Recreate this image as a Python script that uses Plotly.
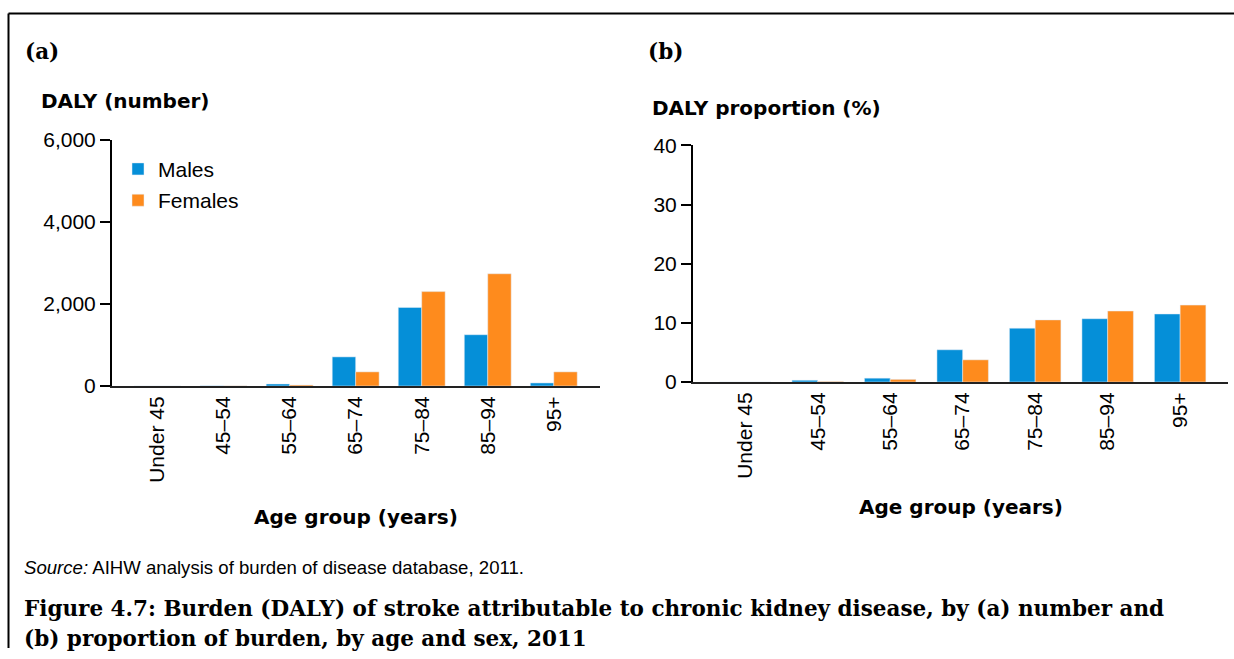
import plotly.graph_objects as go

categories = ["Under 45", "45–54", "55–64", "65–74", "75–84", "85–94", "95+"]
males_number = [0, 5, 50, 710, 1915, 1250, 75]
females_number = [0, 5, 25, 345, 2300, 2735, 345]
males_pct = [0.0, 0.3, 0.65, 5.45, 9.1, 10.7, 11.5]
females_pct = [0.0, 0.1, 0.45, 3.75, 10.5, 12.0, 13.0]
y1_ticks = [0, 2000, 4000, 6000]
y1_ticklabels = ["0", "2,000", "4,000", "6,000"]
y2_ticks = [0, 10, 20, 30, 40]

BLUE = "#058fd8"
ORANGE = "#fe8b1d"
W, H = 1234, 659
# measured vertical mapping of the capture: image_y = A + B * page_y
A, B = 11.4, 0.964


def px(x):
    return x / W


def py(y):
    d = (y - A) / B
    return 1 - d / H


fig = go.Figure()
fig.add_trace(go.Bar(x=categories, y=males_number, name="Males", marker_color=BLUE,
                     xaxis="x", yaxis="y", legendgroup="m"))
fig.add_trace(go.Bar(x=categories, y=females_number, name="Females", marker_color=ORANGE,
                     xaxis="x", yaxis="y", legendgroup="f"))
fig.add_trace(go.Bar(x=categories, y=males_pct, name="Males", marker_color=BLUE,
                     xaxis="x2", yaxis="y2", showlegend=False, legendgroup="m"))
fig.add_trace(go.Bar(x=categories, y=females_pct, name="Females", marker_color=ORANGE,
                     xaxis="x2", yaxis="y2", showlegend=False, legendgroup="f"))

tickfont = dict(family="Liberation Sans, Arial, sans-serif", size=21, color="black")
xcommon = dict(type="category", showline=True, linecolor="#222", linewidth=2,
               ticks="", tickangle=-90, tickfont=tickfont, showgrid=False,
               zeroline=False, fixedrange=True)
ycommon = dict(showline=True, linecolor="black", linewidth=2, ticks="outside",
               ticklen=10, tickwidth=2, tickcolor="black", tickfont=tickfont,
               showgrid=False, zeroline=False, fixedrange=True)

fig.update_layout(
    width=W, height=H,
    margin=dict(l=0, r=0, t=0, b=0),
    paper_bgcolor="white", plot_bgcolor="white",
    barmode="group", bargap=0.29, bargroupgap=0,
    xaxis=dict(domain=[px(112), px(600)], range=[-0.69, 6.70], anchor="y", **xcommon),
    yaxis=dict(domain=[py(385), py(139)], range=[0, 6000], tickvals=y1_ticks,
               ticktext=y1_ticklabels, anchor="x", **ycommon),
    xaxis2=dict(domain=[px(693), px(1228)], range=[-0.72, 6.66], anchor="y2", **xcommon),
    yaxis2=dict(domain=[py(381), py(144.6)], range=[0, 40], tickvals=y2_ticks,
                anchor="x2", **ycommon),
    legend=dict(x=px(118), y=py(148), xanchor="left", yanchor="top",
                font=dict(family="Liberation Sans, Arial, sans-serif", size=21, color="black"),
                bgcolor="rgba(0,0,0,0)", borderwidth=0, tracegroupgap=1),
    showlegend=True,
)

bold_sans = dict(family="DejaVu Sans, sans-serif", size=20, color="black")
serif_bold = dict(family="DejaVu Serif, serif", size=21.5, color="black")

annotations = [
    dict(text="<b>(a)</b>", x=px(23), y=py(51), xanchor="left", yanchor="middle", font=serif_bold),
    dict(text="<b>(b)</b>", x=px(646), y=py(50.5), xanchor="left", yanchor="middle", font=serif_bold),
    dict(text="<b>DALY (number)</b>", x=px(39), y=py(100), xanchor="left", yanchor="middle", font=bold_sans),
    dict(text="<b>DALY proportion (%)</b>", x=px(650), y=py(107.5), xanchor="left", yanchor="middle", font=bold_sans),
    dict(text="<b>Age group (years)</b>", x=px(356), y=py(516), xanchor="center", yanchor="middle", font=bold_sans),
    dict(text="<b>Age group (years)</b>", x=px(961), y=py(505.5), xanchor="center", yanchor="middle", font=bold_sans),
    dict(text="<i>Source:</i> AIHW analysis of burden of disease database, 2011.", x=px(22), y=py(566),
         xanchor="left", yanchor="middle",
         font=dict(family="Liberation Sans, Arial, sans-serif", size=18.6, color="black")),
    dict(text="<b>Figure 4.7: Burden (DALY) of stroke attributable to chronic kidney disease, by (a) number and</b>",
         x=px(22), y=py(607), xanchor="left", yanchor="middle", font=serif_bold),
    dict(text="<b>(b) proportion of burden, by age and sex, 2011</b>",
         x=px(22), y=py(637), xanchor="left", yanchor="middle", font=serif_bold),
]
for a in annotations:
    a.update(xref="paper", yref="paper", showarrow=False)
fig.update_layout(annotations=annotations)

fig.update_layout(shapes=[
    dict(type="line", xref="paper", yref="paper", x0=px(8.5), x1=1, y0=py(13), y1=py(13),
         line=dict(color="black", width=2)),
    dict(type="line", xref="paper", yref="paper", x0=px(8.5), x1=px(8.5), y0=py(13), y1=0,
         line=dict(color="black", width=2)),
])

fig.write_html(
    "out.html",
    config={"displayModeBar": False},
    post_script="document.body.style.margin='0';document.body.style.overflow='hidden';",
)
